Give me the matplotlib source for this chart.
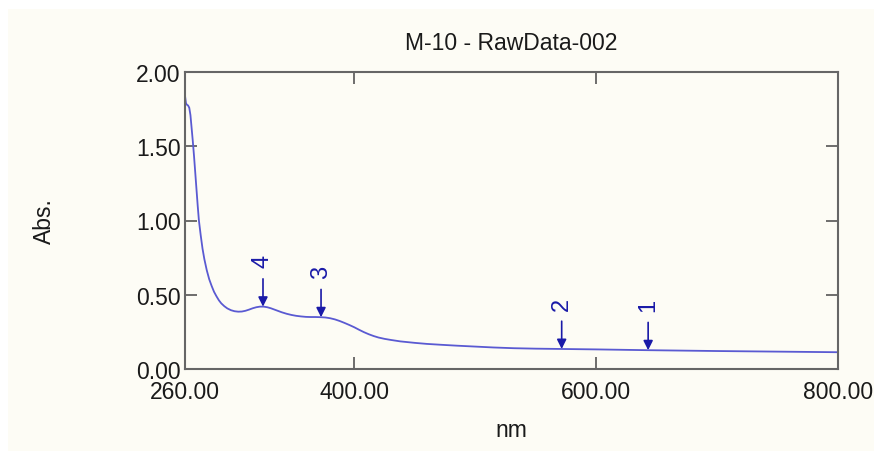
import numpy as np
import matplotlib
matplotlib.use("Agg")
import matplotlib.pyplot as plt
from matplotlib.patches import Rectangle

# spectrum
wavelength = [260, 260.8, 261.5, 262.5, 263.5, 264.5, 265.5, 266.5, 267.5, 268.5, 269.5,
              270.5, 271.5, 273, 274.5, 276, 278, 280, 282, 284, 286, 288, 290, 292.5,
              295, 298, 301, 304, 307, 310, 313, 316, 319, 322, 325, 328, 331, 334,
              337, 340, 344, 348, 352, 356, 360, 364, 368, 372, 376, 380, 384, 388,
              392, 396, 400, 404, 408, 412, 416, 420, 425, 430, 438, 450, 460, 472,
              485, 500, 515, 532, 550, 570, 600, 640, 700, 750, 800]
absorbance = [1.84, 1.79, 1.78, 1.775, 1.76, 1.71, 1.62, 1.53, 1.43, 1.32, 1.21,
              1.10, 1.00, 0.90, 0.81, 0.74, 0.665, 0.605, 0.56, 0.52, 0.49, 0.463,
              0.442, 0.423, 0.408, 0.396, 0.389, 0.386, 0.387, 0.392, 0.40, 0.409,
              0.416, 0.42, 0.42, 0.416, 0.409, 0.40, 0.391, 0.382, 0.372, 0.364,
              0.358, 0.354, 0.351, 0.35, 0.35, 0.349, 0.347, 0.342, 0.334, 0.323,
              0.31, 0.296, 0.281, 0.264, 0.248, 0.234, 0.222, 0.212, 0.203, 0.196,
              0.186, 0.176, 0.169, 0.163, 0.157, 0.151, 0.145, 0.14, 0.137, 0.135,
              0.132, 0.127, 0.121, 0.117, 0.113]

peak_nm = [643, 571.5, 372.5, 324.5]
peak_labels = ["1", "2", "3", "4"]

xticks = [260, 400, 600, 800]
yticks = [0.0, 0.5, 1.0, 1.5, 2.0]

cream = "#fdfcf5"
plt.rcParams["font.family"] = ["Liberation Sans", "DejaVu Sans"]

fig = plt.figure(figsize=(8.74, 4.52), dpi=100, facecolor="white")
fig.patches.append(Rectangle((8 / 874, 0), 1, 1 - 10 / 452, transform=fig.transFigure,
                             facecolor=cream, edgecolor="none", zorder=-10))
ax = fig.add_axes([185 / 874, 82 / 452, 653 / 874, 297 / 452])
ax.set_facecolor(cream)

ax.plot(wavelength, absorbance, color="#5a5ad2", lw=1.3)

for nm, lab in zip(peak_nm, peak_labels):
    a = np.interp(nm, wavelength, absorbance)
    ax.annotate("", xy=(nm, a), xytext=(0, 20), textcoords="offset points",
                arrowprops=dict(arrowstyle="-|>", color="#1a1aa8", lw=1.2,
                                mutation_scale=14, shrinkA=0, shrinkB=0))
    ax.annotate(lab, xy=(nm, a), xytext=(0, 33), textcoords="offset points",
                rotation=90, ha="center", va="center", fontsize=17, color="#1a1aa8")

ax.set_xlim(260, 800)
ax.set_ylim(0, 2)
ax.set_xticks(xticks)
ax.set_xticklabels([f"{v:.2f}" for v in xticks])
ax.set_yticks(yticks)
ax.set_yticklabels([f"{v:.2f}" for v in yticks])
ax.tick_params(direction="in", length=8.5, width=1.2, color="#555555",
               labelsize=16.5, labelcolor="#1a1a1a", top=True, right=True)
ax.tick_params(axis="x", pad=8)
ax.tick_params(axis="y", pad=3)
for s in ax.spines.values():
    s.set_color("#666666")
    s.set_linewidth(1.5)

ax.text(0.5, 1.10, "M-10 - RawData-002", transform=ax.transAxes, ha="center",
        va="center", fontsize=16.5, color="#1a1a1a")
ax.set_xlabel("nm", fontsize=16.5, color="#1a1a1a")
ax.xaxis.set_label_coords(0.5, -0.165)
ax.set_ylabel("Abs.", fontsize=16.5, color="#1a1a1a")
ax.yaxis.set_label_coords(-0.197, 0.5)

fig.savefig("out.png", dpi=100, facecolor=fig.get_facecolor())
